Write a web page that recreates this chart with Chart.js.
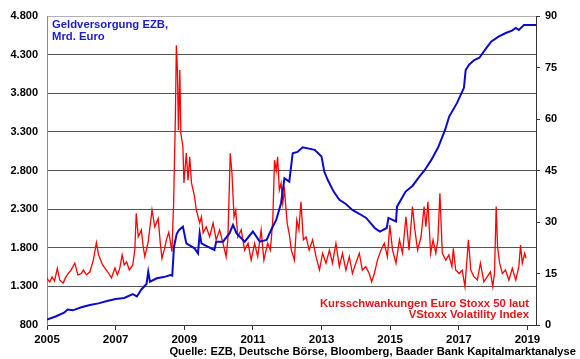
<!DOCTYPE html>
<html>
<head>
<meta charset="utf-8">
<script src="https://cdn.jsdelivr.net/npm/chart.js@4/dist/chart.umd.min.js"></script>
<style>
  body { margin: 0; background: #fff; }
  #wrap { width: 580px; height: 359px; }
</style>
</head>
<body>
<div id="wrap"><canvas id="chart" width="580" height="359"></canvas></div>
<script>
// Geldversorgung EZB (Mrd. Euro), linke Achse
const blueYears = [2005.00, 2005.25, 2005.50, 2005.60, 2005.75, 2006.00, 2006.25, 2006.50, 2006.75, 2007.00, 2007.25, 2007.50, 2007.62, 2007.75, 2007.90, 2007.95, 2008.00, 2008.20, 2008.40, 2008.60, 2008.65, 2008.70, 2008.78, 2008.85, 2008.96, 2009.06, 2009.30, 2009.40, 2009.45, 2009.50, 2009.68, 2009.88, 2009.93, 2010.13, 2010.32, 2010.42, 2010.52, 2010.76, 2011.00, 2011.20, 2011.40, 2011.53, 2011.68, 2011.82, 2011.92, 2012.06, 2012.16, 2012.30, 2012.45, 2012.80, 2013.00, 2013.08, 2013.18, 2013.35, 2013.52, 2013.70, 2013.90, 2014.10, 2014.30, 2014.45, 2014.55, 2014.70, 2014.90, 2014.95, 2015.17, 2015.20, 2015.45, 2015.65, 2015.85, 2016.00, 2016.20, 2016.40, 2016.60, 2016.72, 2016.95, 2017.15, 2017.20, 2017.30, 2017.45, 2017.60, 2017.80, 2017.95, 2018.17, 2018.37, 2018.55, 2018.66, 2018.75, 2018.90, 2019.25];
const blueValues = [870, 910, 960, 1000, 990, 1030, 1060, 1080, 1110, 1137, 1150, 1200, 1170, 1260, 1330, 1490, 1360, 1405, 1420, 1448, 1440, 1810, 1980, 2030, 2073, 1856, 1792, 1728, 1988, 1858, 1814, 1771, 1879, 1879, 1988, 2095, 1988, 1879, 2010, 1879, 1901, 2030, 2160, 2376, 2700, 2656, 3024, 3040, 3100, 3067, 2980, 2786, 2680, 2530, 2420, 2370, 2290, 2240, 2186, 2110, 2056, 2010, 2056, 2186, 2140, 2332, 2527, 2600, 2720, 2800, 2937, 3100, 3325, 3498, 3675, 3870, 4100, 4170, 4230, 4260, 4385, 4470, 4535, 4580, 4610, 4645, 4620, 4685, 4685];

// VStoxx Volatility Index, rechte Achse
const redYears = [2005.00, 2005.08, 2005.15, 2005.22, 2005.30, 2005.37, 2005.47, 2005.55, 2005.62, 2005.70, 2005.81, 2005.90, 2006.00, 2006.06, 2006.15, 2006.25, 2006.35, 2006.44, 2006.50, 2006.54, 2006.62, 2006.73, 2006.80, 2006.88, 2006.98, 2007.05, 2007.12, 2007.19, 2007.25, 2007.32, 2007.40, 2007.50, 2007.56, 2007.60, 2007.66, 2007.75, 2007.80, 2007.85, 2007.95, 2008.06, 2008.14, 2008.24, 2008.30, 2008.35, 2008.42, 2008.48, 2008.55, 2008.64, 2008.69, 2008.74, 2008.77, 2008.80, 2008.83, 2008.87, 2008.90, 2008.96, 2008.99, 2009.06, 2009.11, 2009.16, 2009.21, 2009.30, 2009.35, 2009.45, 2009.50, 2009.55, 2009.64, 2009.74, 2009.84, 2009.93, 2010.03, 2010.13, 2010.22, 2010.27, 2010.34, 2010.39, 2010.45, 2010.50, 2010.56, 2010.66, 2010.76, 2010.86, 2010.95, 2011.05, 2011.14, 2011.24, 2011.32, 2011.43, 2011.51, 2011.58, 2011.63, 2011.68, 2011.72, 2011.77, 2011.82, 2011.87, 2011.92, 2012.00, 2012.06, 2012.12, 2012.21, 2012.28, 2012.34, 2012.40, 2012.47, 2012.55, 2012.64, 2012.74, 2012.84, 2012.94, 2013.03, 2013.13, 2013.23, 2013.32, 2013.42, 2013.52, 2013.61, 2013.71, 2013.81, 2013.90, 2014.00, 2014.10, 2014.19, 2014.29, 2014.39, 2014.46, 2014.54, 2014.63, 2014.73, 2014.83, 2014.92, 2014.99, 2015.07, 2015.17, 2015.27, 2015.36, 2015.46, 2015.55, 2015.65, 2015.72, 2015.80, 2015.90, 2015.99, 2016.04, 2016.10, 2016.18, 2016.25, 2016.33, 2016.39, 2016.45, 2016.52, 2016.62, 2016.71, 2016.80, 2016.84, 2016.91, 2017.01, 2017.10, 2017.18, 2017.28, 2017.35, 2017.44, 2017.54, 2017.63, 2017.73, 2017.83, 2017.92, 2017.99, 2018.04, 2018.09, 2018.13, 2018.19, 2018.27, 2018.36, 2018.46, 2018.56, 2018.66, 2018.75, 2018.80, 2018.85, 2018.92, 2018.96];
const redValues = [13.6, 12.5, 14.0, 12.8, 16.5, 13.1, 12.2, 14.0, 15.0, 16.0, 18.0, 14.6, 15.0, 16.0, 14.6, 15.5, 18.9, 24.0, 20.5, 19.5, 17.5, 16.0, 15.0, 13.7, 16.6, 14.6, 16.5, 20.4, 17.5, 18.4, 16.0, 17.5, 22.0, 32.5, 25.7, 27.7, 23.0, 19.9, 24.3, 33.5, 28.6, 31.0, 24.0, 19.4, 22.0, 24.8, 27.0, 21.4, 35.5, 60.0, 81.5, 74.3, 56.8, 74.3, 55.9, 52.0, 41.4, 50.1, 42.2, 49.0, 41.4, 37.4, 33.5, 29.7, 31.5, 26.8, 28.6, 25.7, 29.7, 24.8, 27.7, 23.8, 19.9, 24.8, 50.0, 44.2, 31.5, 33.5, 25.7, 27.7, 21.8, 23.8, 18.9, 23.8, 19.9, 27.7, 18.9, 23.8, 21.8, 30.6, 48.0, 45.0, 49.0, 39.3, 41.3, 35.4, 39.3, 29.6, 26.5, 21.8, 18.9, 30.6, 27.7, 35.9, 24.8, 25.7, 21.8, 24.8, 19.9, 16.0, 20.9, 18.0, 21.8, 18.0, 23.8, 17.0, 20.9, 16.0, 19.9, 15.0, 18.0, 20.9, 16.0, 17.0, 15.0, 12.6, 15.0, 18.9, 21.8, 23.8, 19.9, 29.1, 21.8, 18.0, 24.8, 20.9, 31.5, 21.8, 34.5, 27.7, 21.8, 25.7, 34.5, 28.6, 35.9, 20.9, 24.8, 20.9, 24.8, 38.4, 20.9, 18.9, 20.4, 17.0, 22.3, 16.0, 15.0, 16.0, 11.2, 24.8, 16.0, 14.1, 13.1, 18.0, 12.6, 14.1, 15.5, 11.2, 15.0, 34.5, 22.8, 18.0, 15.0, 16.0, 13.1, 16.5, 13.1, 17.0, 23.3, 18.0, 20.9, 19.4];

const yearTicks = [2005, 2007, 2009, 2011, 2013, 2015, 2017, 2019];
const yearRange = { min: 2005, max: 2019.25 };
const leftTicks = { min: 800, max: 4800, step: 500 };
const rightTicks = { min: 0, max: 90, step: 15 };

const blueLabel = ['Geldversorgung EZB,', 'Mrd. Euro'];
const redLabel = ['Kursschwankungen Euro Stoxx 50 laut', 'VStoxx Volatility Index'];
const sourceText = 'Quelle: EZB, Deutsche Börse, Bloomberg, Baader Bank Kapitalmarktanalyse';

const FONT = '"Liberation Sans", Arial, sans-serif';
const BLUE = '#0a0acd';
const RED = '#ff0000';

function toPoints(xs, ys) {
    return xs.map((x, i) => ({ x: x, y: ys[i] }));
}

function thousands(v) {
    return String(v).replace(/\B(?=(\d{3})+(?!\d))/g, '.');
}

// Texte im Diagramm
const textPlugin = {
    id: 'texts',
    afterDraw(chart) {
        const ctx = chart.ctx;
        const area = chart.chartArea;
        ctx.save();
        ctx.font = 'bold 11.3px ' + FONT;
        ctx.textBaseline = 'alphabetic';
        ctx.fillStyle = '#1c1cc8';
        ctx.textAlign = 'left';
        ctx.fillText(blueLabel[0], area.left + 5, 28);
        ctx.fillText(blueLabel[1], area.left + 5, 40);
        ctx.fillStyle = '#e8141a';
        ctx.textAlign = 'right';
        ctx.fillText(redLabel[0], 529, 307);
        ctx.fillText(redLabel[1], 529, 318);
        ctx.fillStyle = '#000';
        ctx.font = 'bold 11.2px ' + FONT;
        ctx.fillText(sourceText, 576, 355);
        ctx.restore();
    }
};

const chart = new Chart(document.getElementById('chart'), {
    type: 'line',
    data: {
        datasets: [{
            label: 'Geldversorgung EZB',
            data: toPoints(blueYears, blueValues),
            yAxisID: 'y',
            borderColor: BLUE,
            borderWidth: 2,
            pointRadius: 0,
            tension: 0
        }, {
            label: 'VStoxx',
            data: toPoints(redYears, redValues),
            yAxisID: 'y1',
            borderColor: RED,
            borderWidth: 1.3,
            pointRadius: 0,
            tension: 0
        }]
    },
    options: {
        responsive: false,
        animation: false,
        layout: { padding: { top: 16, left: 0, right: 0, bottom: 0 } },
        plugins: {
            legend: { display: false },
            tooltip: { enabled: false }
        },
        scales: {
            x: {
                type: 'linear',
                min: yearRange.min,
                max: yearRange.max,
                afterFit: s => { s.height = 34; },
                afterBuildTicks: s => { s.ticks = yearTicks.map(v => ({ value: v })); },
                border: { color: '#333', width: 1 },
                grid: { drawOnChartArea: false, drawTicks: true, tickLength: 5, color: '#333' },
                ticks: {
                    padding: 3,
                    maxRotation: 0,
                    autoSkip: false,
                    color: '#000',
                    font: { family: FONT, size: 11.5, weight: 'bold' },
                    callback: v => String(v)
                }
            },
            y: {
                position: 'left',
                min: leftTicks.min,
                max: leftTicks.max,
                afterFit: s => { s.width = 47; },
                border: { color: '#888', width: 1 },
                grid: {
                    drawTicks: false,
                    color: c => (c.tick && c.tick.value === leftTicks.max) ? '#b0b0b0' : '#555'
                },
                ticks: {
                    stepSize: leftTicks.step,
                    padding: 9,
                    color: '#000',
                    font: { family: FONT, size: 11, weight: 'bold' },
                    callback: v => thousands(v)
                }
            },
            y1: {
                position: 'right',
                min: rightTicks.min,
                max: rightTicks.max,
                afterFit: s => { s.width = 44; },
                border: { color: '#333', width: 1 },
                grid: { drawOnChartArea: false, drawTicks: true, tickLength: 4, color: '#333' },
                ticks: {
                    stepSize: rightTicks.step,
                    padding: 5,
                    color: '#000',
                    font: { family: FONT, size: 11, weight: 'bold' }
                }
            }
        }
    },
    plugins: [textPlugin]
});
</script>
</body>
</html>
